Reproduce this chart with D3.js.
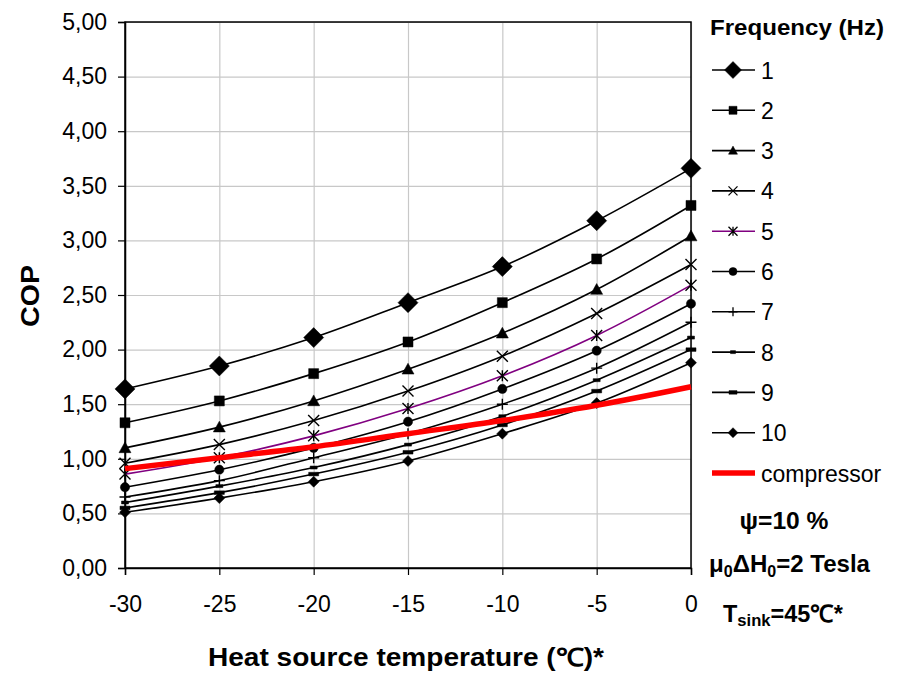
<!DOCTYPE html>
<html>
<head>
<meta charset="utf-8">
<script src="https://cdn.jsdelivr.net/npm/d3@7"></script>
<style>
  body { margin: 0; background: #fff; }
  text { font-family: "Liberation Sans", Arial, sans-serif; }
</style>
</head>
<body>
<div id="chart"></div>
<script>
var width = 897,
	height = 673;

// heat source temperature (C)
var temps = [-30, -25, -20, -15, -10, -5, 0];

// COP per frequency (Hz)
var freqs = ["1", "2", "3", "4", "5", "6", "7", "8", "9", "10"];
var cop1 = [1.64, 1.85, 2.11, 2.43, 2.76, 3.18, 3.66];
var cop2 = [1.33, 1.53, 1.78, 2.07, 2.43, 2.83, 3.32];
var cop3 = [1.10, 1.29, 1.53, 1.82, 2.15, 2.55, 3.04];
var cop4 = [0.96, 1.13, 1.35, 1.62, 1.94, 2.33, 2.78];
var cop5 = [0.86, 1.01, 1.21, 1.46, 1.76, 2.13, 2.59];
var cop6 = [0.74, 0.90, 1.10, 1.34, 1.64, 1.99, 2.42];
var cop7 = [0.65, 0.80, 1.01, 1.23, 1.50, 1.83, 2.25];
var cop8 = [0.60, 0.75, 0.92, 1.13, 1.39, 1.72, 2.11];
var cop9 = [0.55, 0.69, 0.86, 1.06, 1.31, 1.62, 2.00];
var cop10 = [0.51, 0.64, 0.79, 0.98, 1.23, 1.51, 1.88];
var copCompressor = [0.91, 1.01, 1.11, 1.23, 1.35, 1.49, 1.66];

var yTicks = [0, 0.5, 1, 1.5, 2, 2.5, 3, 3.5, 4, 4.5, 5];

var series = [cop1, cop2, cop3, cop4, cop5, cop6, cop7, cop8, cop9, cop10].map(function(v, i) {
	return { name: freqs[i], values: v };
});
// marker type and line colour per series
var markers = ["bigDiamond", "square", "triangle", "times", "asterisk", "circle", "plus", "dashS", "dashL", "diamond"];
var colors = ["#000", "#000", "#000", "#000", "#800080", "#000", "#000", "#000", "#000", "#000"];

var margin = { left: 125, top: 22, right: 206, bottom: 105 };

var x = d3.scaleLinear().domain([-30, 0]).range([margin.left, width - margin.right]);
var y = d3.scaleLinear().domain([0, 5]).range([height - margin.bottom, margin.top]);

var svg = d3.select("#chart").append("svg")
	.attr("width", width)
	.attr("height", height);

// gridlines
svg.append("g")
	.attr("transform", "translate(" + margin.left + ",0)")
	.call(d3.axisLeft(y).tickValues(yTicks).tickSize(-(x.range()[1] - x.range()[0])).tickFormat(""))
	.call(function(g) {
		g.select(".domain").remove();
		g.selectAll("line").attr("stroke", "#c8c8c8").attr("stroke-width", 1.2);
	});
svg.append("g")
	.attr("transform", "translate(0," + y(0) + ")")
	.call(d3.axisBottom(x).tickValues(temps).tickSize(-(y.range()[0] - y.range()[1])).tickFormat(""))
	.call(function(g) {
		g.select(".domain").remove();
		g.selectAll("line").attr("stroke", "#c8c8c8").attr("stroke-width", 1.2);
	});

// plot border
svg.append("rect")
	.attr("x", x(-30)).attr("y", y(5))
	.attr("width", x(0) - x(-30)).attr("height", y(0) - y(5))
	.attr("fill", "none").attr("stroke", "#000").attr("stroke-width", 1.5);

// axes
var fmt = function(d) { return d3.format(".2f")(d).replace(".", ","); };
svg.append("g")
	.attr("transform", "translate(" + margin.left + ",0)")
	.call(d3.axisLeft(y).tickValues(yTicks).tickSize(7).tickPadding(11).tickFormat(fmt))
	.call(function(g) {
		g.select(".domain").attr("stroke-width", 1.5);
		g.selectAll("line").attr("stroke-width", 1.2);
		g.selectAll("text").attr("font-size", 23).attr("fill", "#000")
			.attr("font-family", "Liberation Sans, Arial, sans-serif");
	});
svg.append("g")
	.attr("transform", "translate(0," + y(0) + ")")
	.call(d3.axisBottom(x).tickValues(temps).tickSize(7).tickPadding(21).tickFormat(function(d) { return String(d); }))
	.call(function(g) {
		g.select(".domain").attr("stroke-width", 1.5);
		g.selectAll("line").attr("stroke-width", 1.2);
		g.selectAll("text").attr("font-size", 23).attr("fill", "#000")
			.attr("font-family", "Liberation Sans, Arial, sans-serif");
	});

// axis titles
svg.append("text")
	.attr("transform", "translate(39," + (y(2.5) + 1) + ") rotate(-90)")
	.attr("text-anchor", "middle")
	.attr("font-weight", "bold").attr("font-size", 25)
	.attr("textLength", 62).attr("lengthAdjust", "spacingAndGlyphs")
	.text("COP");
svg.append("text")
	.attr("x", 406).attr("y", 666)
	.attr("text-anchor", "middle")
	.attr("font-weight", "bold").attr("font-size", 25)
	.attr("textLength", 396).attr("lengthAdjust", "spacingAndGlyphs")
	.text("Heat source temperature (\u2103)*");

// marker shapes
function markerPath(type, s) {
	switch (type) {
		case "bigDiamond":
		case "diamond":
			return "M0," + (-s) + "L" + s + ",0L0," + s + "L" + (-s) + ",0Z";
		case "square":
			return "M" + (-s) + "," + (-s) + "h" + (2 * s) + "v" + (2 * s) + "h" + (-2 * s) + "Z";
		case "triangle":
			return "M0," + (-s) + "L" + s + "," + (s * 0.8) + "L" + (-s) + "," + (s * 0.8) + "Z";
		case "times":
			return "M" + (-s) + "," + (-s) + "L" + s + "," + s + "M" + s + "," + (-s) + "L" + (-s) + "," + s;
		case "asterisk":
			return "M" + (-s) + "," + (-s) + "L" + s + "," + s + "M" + s + "," + (-s) + "L" + (-s) + "," + s +
				"M0," + (-s) + "L0," + s;
		case "plus":
			return "M" + (-s) + ",0L" + s + ",0M0," + (-s) + "L0," + s;
		case "circle":
			return "M" + s + ",0A" + s + "," + s + " 0 1,1 " + (-s) + ",0A" + s + "," + s + " 0 1,1 " + s + ",0Z";
		case "dashS":
			return "M" + (-s) + ",-1.5h" + (2 * s) + "v3h" + (-2 * s) + "Z";
		case "dashL":
			return "M" + (-s) + ",-1.8h" + (2 * s) + "v3.6h" + (-2 * s) + "Z";
	}
}
var plotSize = { bigDiamond: 10, diamond: 5.5, square: 5, triangle: 6, times: 5.5, asterisk: 5.5, plus: 5.5, circle: 4.6, dashS: 3.5, dashL: 5 };
var legendSize = { bigDiamond: 8.5, diamond: 5, square: 4, triangle: 4.5, times: 4.5, asterisk: 4.5, plus: 4.5, circle: 4, dashS: 2.5, dashL: 4 };
var isStroke = function(t) { return t === "times" || t === "asterisk" || t === "plus"; };

var line = d3.line()
	.x(function(d, i) { return x(temps[i]); })
	.y(function(d) { return y(d); })
	.curve(d3.curveCatmullRom);

series.forEach(function(s, i) {
	var g = svg.append("g");
	g.append("path")
		.attr("d", line(s.values))
		.attr("fill", "none")
		.attr("stroke", colors[i])
		.attr("stroke-width", 1.6);
	g.selectAll("path.mk")
		.data(s.values)
		.enter().append("path")
		.attr("class", "mk")
		.attr("transform", function(d, j) { return "translate(" + x(temps[j]) + "," + y(d) + ")"; })
		.attr("d", markerPath(markers[i], plotSize[markers[i]]))
		.attr("fill", isStroke(markers[i]) ? "none" : "#000")
		.attr("stroke", "#000")
		.attr("stroke-width", isStroke(markers[i]) ? 1.4 : 0.5);
});

svg.append("path")
	.attr("d", line(copCompressor))
	.attr("fill", "none")
	.attr("stroke", "#ff0000")
	.attr("stroke-width", 5.5);

// legend
var legend = svg.append("g");
legend.append("text")
	.attr("x", 710).attr("y", 35)
	.attr("font-weight", "bold").attr("font-size", 22)
	.attr("textLength", 174).attr("lengthAdjust", "spacingAndGlyphs")
	.text("Frequency (Hz)");

var rowY = d3.scaleLinear().domain([0, 10]).range([70, 473]);
series.forEach(function(s, i) {
	var ry = rowY(i);
	legend.append("line")
		.attr("x1", 712).attr("x2", 755).attr("y1", ry).attr("y2", ry)
		.attr("stroke", colors[i]).attr("stroke-width", 1.6);
	legend.append("path")
		.attr("transform", "translate(733," + ry + ")")
		.attr("d", markerPath(markers[i], legendSize[markers[i]]))
		.attr("fill", isStroke(markers[i]) ? "none" : "#000")
		.attr("stroke", "#000")
		.attr("stroke-width", isStroke(markers[i]) ? 1.3 : 0.5);
	legend.append("text")
		.attr("x", 761).attr("y", ry + 8.5)
		.attr("font-size", 23)
		.text(s.name);
});
legend.append("line")
	.attr("x1", 712).attr("x2", 755).attr("y1", rowY(10)).attr("y2", rowY(10))
	.attr("stroke", "#ff0000").attr("stroke-width", 5.5);
legend.append("text")
	.attr("x", 761).attr("y", rowY(10) + 8.5)
	.attr("font-size", 23)
	.text("compressor");

// conditions
var notes = svg.append("g").attr("font-weight", "bold").attr("font-size", 24);
notes.append("text").attr("x", 784).attr("y", 529).attr("text-anchor", "middle")
	.attr("textLength", 89).attr("lengthAdjust", "spacingAndGlyphs")
	.text("\u03c8=10 %");
var mu = notes.append("text").attr("x", 709).attr("y", 572)
	.attr("textLength", 161).attr("lengthAdjust", "spacingAndGlyphs");
mu.append("tspan").text("\u03bc");
mu.append("tspan").attr("font-size", 16).attr("dy", 5).text("0");
mu.append("tspan").attr("dy", -5).text("\u0394H");
mu.append("tspan").attr("font-size", 16).attr("dy", 5).text("0");
mu.append("tspan").attr("dy", -5).text("=2 Tesla");
var ts = notes.append("text").attr("x", 723).attr("y", 622)
	.attr("textLength", 120).attr("lengthAdjust", "spacingAndGlyphs");
ts.append("tspan").text("T");
ts.append("tspan").attr("font-size", 17).attr("dy", 4).text("sink");
ts.append("tspan").attr("dy", -4).text("=45\u2103*");
</script>
</body>
</html>
